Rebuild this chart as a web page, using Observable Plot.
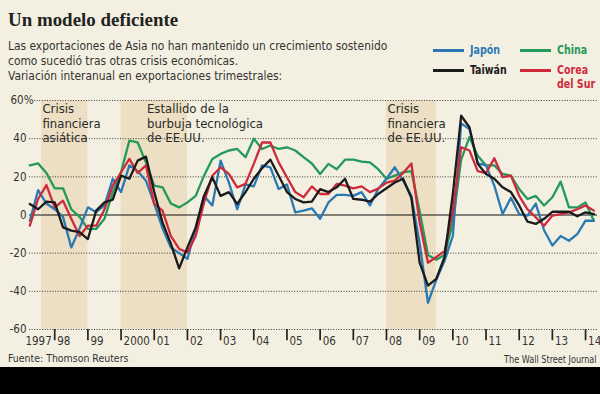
<!DOCTYPE html>
<html><head><meta charset="utf-8">
<script src="https://cdn.jsdelivr.net/npm/d3@7"></script>
<script src="https://cdn.jsdelivr.net/npm/@observablehq/plot@0.6"></script>
<style>
body{margin:0;background:#f4f0e1;}
#wrap{position:relative;width:600px;height:394px;overflow:hidden;background:#f4f0e1;font-family:"Liberation Sans Narrow","DejaVu Sans Condensed","Liberation Sans",sans-serif;}
#title{position:absolute;left:8px;top:8px;font:bold 19.5px/24px "Liberation Serif",serif;color:#222;white-space:nowrap;transform:scaleX(0.97);transform-origin:0 0;}
#sub{position:absolute;left:8px;top:38px;font-size:13px;line-height:15px;color:#333;white-space:nowrap;transform:scaleX(0.915);transform-origin:0 0;}
.leg{position:absolute;font-weight:bold;font-size:12px;line-height:14px;white-space:nowrap;transform:scaleX(0.88);transform-origin:0 0;}
.sw{position:absolute;height:3px;width:31px;}
#chart{position:absolute;left:0;top:88px;}
.foot{position:absolute;top:352px;line-height:14px;color:#333;white-space:nowrap;}
#band{position:absolute;left:0;top:367px;width:600px;height:27px;background:#000;}
</style></head>
<body><div id="wrap">
<div id="title">Un modelo deficiente</div>
<div id="sub">Las exportaciones de Asia no han mantenido un crecimiento sostenido<br>como sucedió tras otras crisis económicas.<br>Variación interanual en exportaciones trimestrales:</div>
<div id="legend"></div>
<div id="chart"></div>
<div class="foot" style="left:8px;font-size:11px;transform:scaleX(0.95);transform-origin:0 0;">Fuente: Thomson Reuters</div>
<div class="foot" style="right:3px;font-size:10.5px;transform:scaleX(0.86);transform-origin:100% 0;">The Wall Street Journal</div>
<div id="band"></div>
</div>
<script>
// Quarterly data, 1997 Q1 .. 2014 Q1 (69 quarters)
const firstYear = 1997;
const japan = [-3,13,6,3,-1,-17,-7,4,1.5,5,19,12,26,23,18,6,-7,-17,-20,-23,-7,10,5,28.5,17,3,16,15,26,25,13.6,16,1.4,2.3,3.5,-2,6.6,10.5,10.5,10,12,5,13.6,19,25,18,10,-15,-46,-34,-24,-11,48,45,27,26,15.4,0.5,9,0.5,-0.3,6,-8,-16,-11,-13.5,-10,-3,-3];
const china = [26,27,22,14,14,3,-1,-7.3,-7.3,-2,12,22.4,39,38,27.6,15.4,14.5,6,4,6.6,10,20.6,29.4,32,33.8,34.6,30.3,40,34.6,36.4,34.6,35.5,33.8,30.3,27,21.5,26.8,24,29,29,28,27.6,24,19,20.6,22.4,23,2,-21,-23.5,-21,-4,29,40.8,31,26,26,21.5,20.6,13.6,8.4,10,5,9.3,17.5,4,4,6.6,-3];
const taiwan = [5.8,3,7,6.6,-6.5,-8.2,-9,-12.6,2.3,6.6,8,20.6,19,28.5,30.6,12,-4,-15,-28,-17,-6.5,10,19.8,10,12,5.8,12,19,24.5,29,20.6,12,8.4,6.6,7,13.6,12,14.5,19,8.4,8,7,11,14,17,19,9,-25,-37,-33.5,-22,11,52,46,26.8,21.5,19,14.5,12,5,-3.5,-4.7,-2,1.7,1.7,1.7,-0.7,1.4,0.5];
const korea = [-5.6,8.4,15.7,4,7.5,-2,-11,-5.6,-5.6,3,15.4,22.4,29.4,22,26,5.8,2.3,-11,-17.8,-19.6,-11,6.6,20.6,25,21.5,14.5,16.3,26.8,38,38,27.6,19.8,12,9.3,15,11,11,16.3,15.4,14,15,12,13.8,17,18,22,27,-4,-25,-22,-19,2,35.5,33.8,23,22,29.7,19.8,20.6,10,3,-1.2,-5.6,-0.3,0.5,1.4,3,5,2.3];

const seriesNames = ["China", "Japón", "Corea del Sur", "Taiwán"];
const seriesColors = ["#23995a", "#2a79b4", "#cf2a3c", "#1b1b1b"];
const seriesValues = [china, japan, korea, taiwan];

const yTicks = [60, 40, 20, 0, -20, -40, -60];
const yTickLabels = ["60%", "40", "20", "0", "-20", "-40", "-60"];
const yearStarts = [1998,1999,2000,2001,2002,2003,2004,2005,2006,2007,2008,2009,2010,2011,2012,2013,2014];
const yearLabels = ["98","99","2000","01","02","03","04","05","06","07","08","09","10","11","12","13","14"];
const firstYearLabel = "1997";

const crisisStart = [1997.6, 2000.0, 2008.0];
const crisisEnd = [1999.0, 2002.0, 2009.5];
const crisisLabels = ["Crisis\nfinanciera\nasiática", "Estallido de la\nburbuja tecnológica\nde EE.UU.", "Crisis\nfinanciera\nde EE.UU."];
const crisisLabelX = [1997.63, 2000.78, 2008.03];

// Build table
const rows = [];
seriesValues.forEach((vals, s) => vals.forEach((v, i) => rows.push({series: seriesNames[s], t: firstYear + (i + 1) / 4, v})));
const crises = crisisStart.map((a, i) => ({x1: a, x2: crisisEnd[i], label: crisisLabels[i], lx: crisisLabelX[i]}));
const yLab = yTicks.map((v, i) => ({v, label: yTickLabels[i]}));

const xDomain = [1997.24, 2014.36];
const yMin = -60, yMax = 60;
const font = '"Liberation Sans Narrow","DejaVu Sans Condensed","Liberation Sans",sans-serif';

const chart = Plot.plot({
  width: 600, height: 262,
  marginTop: 12, marginBottom: 21, marginLeft: 29, marginRight: 3,
  style: {background: "transparent", fontFamily: font, overflow: "visible"},
  x: {domain: xDomain, axis: null},
  y: {domain: [yMin, yMax], axis: null},
  color: {domain: seriesNames, range: seriesColors},
  marks: [
    Plot.rect(crises, {x1: "x1", x2: "x2", y1: yMin, y2: yMax, fill: "#ecdfc3"}),
    Plot.ruleY(yTicks.filter(d => d !== 0), {y: d => d, x1: d => d === 60 ? 1997.39 : xDomain[0], x2: xDomain[1], stroke: "#3a3a3a", strokeWidth: 1, strokeDasharray: "1,1.6"}),
    Plot.text(yLab.filter(d => d.v !== 60), {x: xDomain[0], y: "v", text: "label", textAnchor: "end", dx: -3, fontSize: 11.5, fill: "#333"}),
    Plot.text(yLab.filter(d => d.v === 60), {x: xDomain[0], y: "v", text: "label", textAnchor: "end", dx: 4, fontSize: 11.5, fill: "#333"}),
    Plot.text(crises, {x: "lx", y: yMax, text: "label", textAnchor: "start", lineAnchor: "top", dy: 3, fontSize: 13, lineHeight: 1.08, fill: "#2a2a2a"}),
    Plot.ruleY([0], {stroke: "#111", strokeWidth: 1.2}),
    Plot.ruleX(yearStarts, {x: d => d, y1: yMin, y2: yMin - 5.9, stroke: "#222", strokeWidth: 1.7}),
    Plot.text(yearStarts, {x: d => d, y: yMin, text: (d, i) => yearLabels[i], textAnchor: "start", dx: 2.5, dy: 12, fontSize: 11.5, fill: "#333"}),
    Plot.text([yearStarts[0]], {x: d => d, y: yMin, text: [firstYearLabel], textAnchor: "end", dx: -3, dy: 12, fontSize: 11.5, fill: "#333"}),
    Plot.line(rows, {x: "t", y: "v", z: "series", stroke: "series", strokeWidth: 2.3, strokeLinejoin: "round", strokeLinecap: "round"})
  ]
});
document.getElementById("chart").appendChild(chart);

// Legend
const legendItems = [
  {name: "Japón", color: seriesColors[1], x: 433, y: 50},
  {name: "China", color: seriesColors[0], x: 520, y: 50},
  {name: "Taiwán", color: seriesColors[3], x: 433, y: 70},
  {name: "Corea<br>del Sur", color: seriesColors[2], x: 520, y: 70}
];
const leg = document.getElementById("legend");
legendItems.forEach(it => {
  const sw = document.createElement("div");
  sw.className = "sw"; sw.style.left = it.x + "px"; sw.style.top = (it.y - 1) + "px"; sw.style.background = it.color;
  leg.appendChild(sw);
  const tx = document.createElement("div");
  tx.className = "leg"; tx.style.left = (it.x + 37) + "px"; tx.style.top = (it.y - 7) + "px"; tx.style.color = it.color;
  tx.innerHTML = it.name;
  leg.appendChild(tx);
});
</script>
</body></html>
